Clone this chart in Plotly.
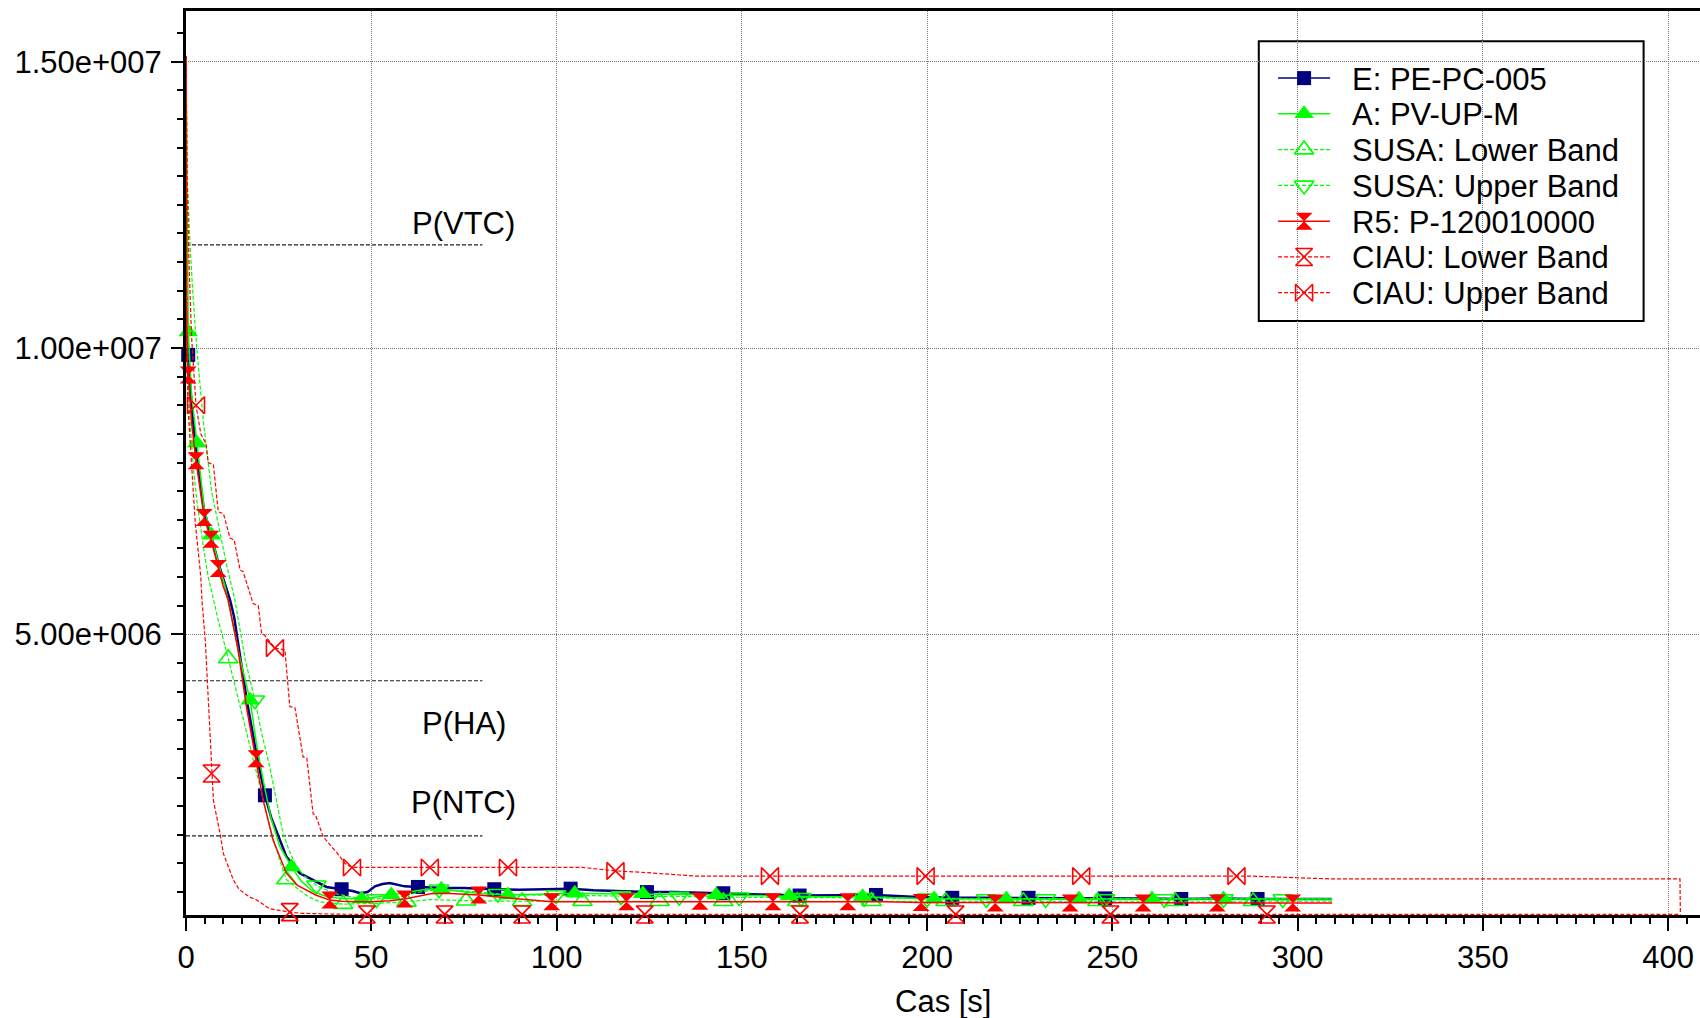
import plotly.graph_objects as go

# ---- pressure histories: time [s], pressure [MPa] ----
e_t = [0, 0.3, 0.6, 1.5, 2.7, 4.9, 6.7, 8.7, 10.5, 11.9, 13, 14.5, 16.4, 18.9, 21.3, 23, 25.3, 27.1,
       30.7, 34.3, 37.9, 42, 45, 47, 49, 51, 53, 55, 57, 59, 62.6, 66, 70, 75, 80, 83.2, 90, 97,
       103.8, 110, 117, 124.4, 132, 140, 145, 155, 165.6, 175, 186.2, 196, 206.8, 217, 227.4, 238,
       248, 258, 268.6, 279, 289.2, 300, 309.3]
e_p = [10.8, 10.3, 9.88, 9.0, 8.2, 7.15, 6.75, 6.25, 5.9, 5.6, 5.3, 4.65, 3.85, 2.95, 2.19, 1.8, 1.41,
       1.12, 0.83, 0.71, 0.59, 0.55, 0.52, 0.48, 0.5, 0.6, 0.64, 0.66, 0.63, 0.6, 0.59, 0.58, 0.57,
       0.57, 0.55, 0.55, 0.54, 0.55, 0.56, 0.53, 0.51, 0.5, 0.5, 0.49, 0.48, 0.46, 0.44, 0.44, 0.45,
       0.42, 0.4, 0.4, 0.4, 0.4, 0.39, 0.39, 0.38, 0.39, 0.38, 0.38, 0.38]
e_mk = [0.6, 21.3, 42, 62.6, 83.2, 103.8, 124.4, 145, 165.6, 186.2, 206.8, 227.4, 248, 268.6, 289.2]

a_t = [0, 0.6, 1.5, 2.9, 4.9, 6.9, 8.7, 10.5, 12.5, 14.5, 17.3, 19, 21, 23, 25.3, 28.5, 31, 34, 38,
       42, 47.4, 51, 55.4, 60, 64, 68.9, 75, 80, 86.9, 95, 104.9, 113, 123.3, 133, 143.1, 152, 162.8,
       172, 182.6, 192, 201.9, 211, 221.4, 231, 241, 250, 260.7, 270, 280, 290, 299.5, 309.3]
a_p = [15.1, 10.28, 9.2, 8.34, 7.2, 6.73, 6.25, 5.85, 5.25, 4.6, 3.85, 3.1, 2.4, 1.78, 1.3, 0.94, 0.7,
       0.52, 0.42, 0.39, 0.38, 0.41, 0.45, 0.5, 0.54, 0.55, 0.5, 0.47, 0.45, 0.46, 0.48, 0.47, 0.47,
       0.46, 0.45, 0.44, 0.43, 0.42, 0.42, 0.4, 0.38, 0.38, 0.38, 0.38, 0.38, 0.38, 0.38, 0.38, 0.38,
       0.38, 0.38, 0.38]
a_mk = [0.6, 2.9, 6.9, 17.3, 28.5, 47.4, 55.4, 68.9, 86.9, 104.9, 123.3, 143.1, 162.8, 182.6, 201.9,
        221.4, 241, 260.7, 280]

sl_t = [0, 0.2, 0.5, 1, 2, 3, 4, 5, 6, 7.4, 8.7, 11.4, 14, 16.4, 18.5, 20.8, 23, 25.3, 27.1, 30.7,
        33, 36.1, 42.4, 50, 59.5, 66, 75.6, 90.7, 107, 127.8, 145, 165, 185, 205, 226, 246, 267,
        288, 309.3]
sl_p = [15.1, 11.5, 9.6, 8.8, 7.9, 7.3, 6.8, 6.4, 6.0, 5.6, 5.25, 4.58, 3.9, 3.27, 2.7, 2.1, 1.55,
        1.06, 0.72, 0.53, 0.42, 0.33, 0.29, 0.3, 0.33, 0.37, 0.35, 0.34, 0.34, 0.34, 0.34, 0.34, 0.34,
        0.34, 0.34, 0.34, 0.34, 0.34, 0.34]
sl_mk = [11.4, 27.1, 42.4, 59.5, 75.6, 90.7, 107, 127.8, 145, 165, 185, 205, 226, 246, 267, 288]

su_t = [0, 0.3, 1.1, 1.8, 2.9, 4.7, 6.9, 9, 11, 13.2, 14.1, 16, 18.6, 20.5, 22.6, 24.5, 26.2, 28,
        29.8, 32, 35.2, 39.7, 45, 51.4, 58, 63, 68.3, 75, 84.2, 92, 99.9, 108, 117.4, 125, 133.1,
        141, 149.3, 158, 166, 175, 183, 192, 200, 208, 216, 224, 232, 240, 248, 256, 264, 272, 280,
        288, 296, 303, 309.3]
su_p = [15.1, 13.0, 11.8, 11.0, 10.0, 8.7, 7.5, 6.8, 6.2, 5.6, 5.25, 4.55, 3.85, 3.25, 2.69, 2.05,
        1.52, 1.2, 0.94, 0.78, 0.62, 0.48, 0.41, 0.38, 0.42, 0.5, 0.55, 0.52, 0.47, 0.45, 0.45, 0.44,
        0.43, 0.43, 0.42, 0.42, 0.41, 0.41, 0.4, 0.4, 0.4, 0.39, 0.39, 0.39, 0.38, 0.38, 0.38, 0.38,
        0.38, 0.38, 0.38, 0.38, 0.38, 0.38, 0.38, 0.38, 0.38]
su_mk = [18.6, 35.2, 51.4, 68.3, 84.2, 99.9, 117.4, 133.1, 149.3, 166, 183, 200, 216, 232, 248, 264,
         280, 296]

r5_t = [0, 0.15, 0.4, 0.6, 1.5, 2.7, 3.8, 4.9, 6.7, 8.7, 10, 11.4, 12.5, 14, 16.4, 18.9, 20.8, 23.5,
        27.1, 30, 32.5, 35, 38.8, 42, 46, 50, 55, 59, 62, 66, 70, 75, 79, 85, 90, 98.7, 108, 118.9,
        128, 138.7, 148, 158.4, 168, 178.6, 188, 198.4, 208, 218.4, 228, 238.6, 248, 258.3, 268,
        278.3, 288, 298.7, 309.3]
r5_p = [15.1, 10.5, 9.7, 9.53, 8.7, 8.03, 7.5, 7.04, 6.66, 6.15, 5.85, 5.6, 5.25, 4.75, 3.7, 2.83,
        2.11, 1.41, 0.83, 0.62, 0.53, 0.45, 0.36, 0.34, 0.33, 0.33, 0.35, 0.38, 0.42, 0.47, 0.48,
        0.46, 0.45, 0.41, 0.38, 0.33, 0.33, 0.33, 0.33, 0.34, 0.33, 0.33, 0.33, 0.33, 0.33, 0.32,
        0.32, 0.31, 0.31, 0.31, 0.31, 0.31, 0.31, 0.31, 0.31, 0.31, 0.31]
r5_mk = [0.6, 2.7, 4.9, 6.7, 8.7, 18.9, 38.8, 59, 79, 98.7, 118.9, 138.7, 158.4, 178.6, 198.4, 218.4,
         238.6, 258.3, 278.3, 298.7]

cl_t = [0, 0.15, 0.5, 1.2, 2.5, 4.0, 4.3, 5.2, 6.0, 6.9, 7.4, 9.2, 10.1, 12.8, 14.3, 17, 19.1, 22.6,
        25, 28, 31, 35, 40, 48.8, 69.8, 90.7, 123.8, 165.7, 207.7, 249.5, 291.7, 350, 403.2]
cl_p = [15.1, 11.0, 9.0, 8.2, 6.95, 6.0, 5.6, 4.9, 3.85, 2.57, 2.1, 1.52, 1.17, 0.71, 0.55, 0.42, 0.36,
        0.21, 0.18, 0.15, 0.13, 0.12, 0.115, 0.11, 0.11, 0.11, 0.11, 0.11, 0.11, 0.11, 0.11, 0.11, 0.11]
cl_mk = [6.9, 28, 48.8, 69.8, 90.7, 123.8, 165.7, 207.7, 249.5, 291.7]

cu_t = [0, 0.3, 0.8, 1.5, 2.7, 4, 5.4, 6, 7.4, 8.7, 10.1, 11.9, 13, 14.6, 15.4, 18.1, 19.5, 20.4,
        21.3, 24, 26.7, 28, 29.4, 31.6, 32.6, 34.3, 35, 37, 39.3, 40.6, 42.9, 44.8, 65.8, 86.9, 107,
        115.9, 122, 137.6, 157.6, 199.6, 241.6, 283.5, 287, 300, 309, 403.2, 403.3]
cu_p = [15.1, 13.0, 11.5, 10.2, 9.0, 8.5, 8.33, 8.0, 7.96, 7.14, 7.11, 6.68, 6.65, 6.12, 6.1, 5.54,
        5.5, 5.02, 4.98, 4.76, 4.73, 3.74, 3.72, 2.86, 2.84, 1.87, 1.84, 1.47, 1.29, 1.2, 1.0, 0.93,
        0.93, 0.93, 0.93, 0.87, 0.85, 0.78, 0.78, 0.78, 0.78, 0.78, 0.78, 0.75, 0.73, 0.73, 0.11]
cu_mk = [2.7, 24, 44.8, 65.8, 86.9, 115.9, 157.6, 199.6, 241.6, 283.5]

# setpoint levels [MPa], drawn from t = 0 to t = 80 s
setpoint_names = ["P(VTC)", "P(HA)", "P(NTC)"]
setpoint_p = [11.8, 4.19, 1.48]
setpoint_t = [0, 80]
setpoint_label_p = [12.18, 3.45, 2.07]
setpoint_label_t = 74.9

y_tick_vals = [5.0e6, 1.0e7, 1.5e7]
y_tick_text = ["5.00e+006", "1.00e+007", "1.50e+007"]

FONT = "Liberation Sans, Arial, sans-serif"
FS = 31
NAVY, GREEN, RED = "#000080", "#00FF00", "#FF0000"
DASH = "4px,2px"

series = [
    ("E: PE-PC-005", e_t, e_p, e_mk, NAVY, 2.5, "solid", "square", 14, 0),
    ("A: PV-UP-M", a_t, a_p, a_mk, GREEN, 1.5, "solid", "triangle-up", 17, 0),
    ("SUSA: Lower Band", sl_t, sl_p, sl_mk, GREEN, 1.2, DASH, "triangle-up-open", 17, 1.6),
    ("SUSA: Upper Band", su_t, su_p, su_mk, GREEN, 1.2, DASH, "triangle-down-open", 17, 1.6),
    ("R5: P-120010000", r5_t, r5_p, r5_mk, RED, 1.5, "solid", "hourglass", 17, 0),
    ("CIAU: Lower Band", cl_t, cl_p, cl_mk, RED, 1.2, DASH, "hourglass-open", 17, 1.6),
    ("CIAU: Upper Band", cu_t, cu_p, cu_mk, RED, 1.2, DASH, "bowtie-open", 17, 1.6),
]

# legend box geometry, in pixels of the plotting area (left 186, top 11, right 1700, bottom 915)
PX_L, PX_R, PX_T, PX_B = 185.7, 1700.0, 11.0, 915.0
LEG_BOX = (1258.7, 41.2, 1643.6, 320.9)
LEG_ROW0, LEG_ROW_STEP = 78.1, 35.77
LEG_LINE = (1278.0, 1330.0)
LEG_TEXT_X = 1350.0


def px_x(px):
    return (px - PX_L) / (PX_R - PX_L)


def px_y(py):
    return (PX_B - py) / (PX_B - PX_T)


fig = go.Figure()

# setpoint lines
for lvl in setpoint_p:
    fig.add_trace(go.Scatter(x=setpoint_t, y=[lvl * 1e6] * 2, mode="lines",
                             line=dict(color="#222222", width=1.2, dash=DASH),
                             showlegend=False, hoverinfo="skip"))

annotations = []
for k, (name, t, p, mk, color, lw, dash, sym, ms, mlw) in enumerate(series):
    pa = [v * 1e6 for v in p]
    mk_idx = [t.index(m) for m in mk]
    mline = dict(color=color, width=mlw) if mlw else dict(width=0)
    fig.add_trace(go.Scatter(x=t, y=pa, mode="lines", name=name,
                             line=dict(color=color, width=lw, dash=dash), showlegend=False))
    fig.add_trace(go.Scatter(x=[t[i] for i in mk_idx], y=[pa[i] for i in mk_idx], mode="markers",
                             name=name, showlegend=False, cliponaxis=False,
                             marker=dict(symbol=sym, size=ms, color=color, line=mline)))
    # legend row: short line with the symbol in its middle, then the label
    ry = px_y(LEG_ROW0 + k * LEG_ROW_STEP)
    x0, x1 = px_x(LEG_LINE[0]), px_x(LEG_LINE[1])
    fig.add_trace(go.Scatter(x=[x0, x1], y=[ry, ry], xaxis="x2", yaxis="y2", mode="lines",
                             line=dict(color=color, width=min(lw, 1.5), dash=dash),
                             showlegend=False, hoverinfo="skip", cliponaxis=False))
    fig.add_trace(go.Scatter(x=[(x0 + x1) / 2], y=[ry], xaxis="x2", yaxis="y2", mode="markers",
                             marker=dict(symbol=sym, size=ms, color=color, line=mline),
                             showlegend=False, hoverinfo="skip", cliponaxis=False))
    annotations.append(dict(x=px_x(LEG_TEXT_X), y=ry, xref="paper", yref="paper", text=name,
                            showarrow=False, xanchor="left", yanchor="middle", yshift=-1,
                            font=dict(family=FONT, size=FS, color="black")))

annotations += [
    dict(x=setpoint_label_t, y=v * 1e6, xref="x", yref="y", text=s, showarrow=False,
         font=dict(family=FONT, size=FS, color="black"), xanchor="center", yanchor="middle")
    for s, v in zip(setpoint_names, setpoint_label_p)
]
annotations.append(dict(x=0.5, y=-0.0962, xref="paper", yref="paper", text="Cas [s]",
                        showarrow=False, xanchor="center", yanchor="middle",
                        font=dict(family=FONT, size=FS, color="black")))

shapes = [dict(type="rect", xref="paper", yref="paper", layer="between",
               x0=px_x(LEG_BOX[0]), x1=px_x(LEG_BOX[2]), y0=px_y(LEG_BOX[3]), y1=px_y(LEG_BOX[1]),
               line=dict(color="black", width=2), fillcolor="white")]

fig.update_layout(
    width=1700, height=1018,
    margin=dict(l=186, r=0, t=11, b=103),
    paper_bgcolor="white", plot_bgcolor="white",
    font=dict(family=FONT, size=FS, color="black"),
    annotations=annotations,
    shapes=shapes,
    showlegend=False,
    xaxis=dict(range=[0, 408.6], tick0=0, dtick=50, showgrid=True, gridcolor="#777777",
               griddash="1px,1px", gridwidth=1, zeroline=False, showline=True, linecolor="black",
               linewidth=3, mirror=True, ticks="outside", ticklen=13, tickwidth=2,
               tickcolor="black", layer="below traces",
               tickfont=dict(family=FONT, size=FS, color="black"),
               minor=dict(dtick=5, tick0=0, ticks="outside", ticklen=6, tickwidth=2,
                          tickcolor="black", showgrid=False)),
    yaxis=dict(range=[0.1e6, 15.885e6], tickmode="array", tickvals=y_tick_vals,
               ticktext=y_tick_text, showgrid=True, gridcolor="#777777", griddash="1px,1px",
               gridwidth=1, zeroline=False, showline=True, linecolor="black", linewidth=3,
               ticks="outside", ticklen=12, tickwidth=2, tickcolor="black",
               ticklabelstandoff=3,
               tickfont=dict(family=FONT, size=FS, color="black"),
               minor=dict(dtick=5e5, tick0=0, ticks="outside", ticklen=6, tickwidth=2,
                          tickcolor="black", showgrid=False)),
    xaxis2=dict(overlaying="x", range=[0, 1], visible=False, fixedrange=True),
    yaxis2=dict(overlaying="y", range=[0, 1], visible=False, fixedrange=True),
)

fig.write_html("out.html")
